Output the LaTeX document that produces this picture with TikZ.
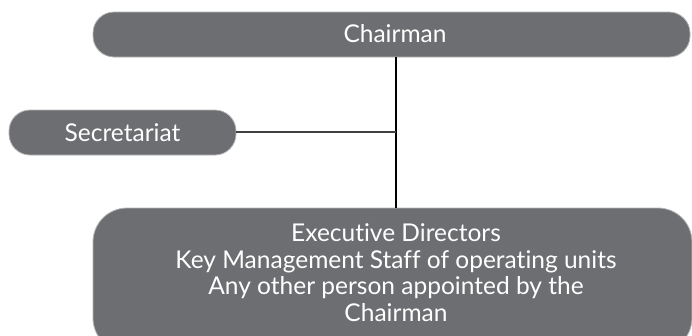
\documentclass[tikz,border=0pt]{standalone}
\usepackage{fontspec}
\setmainfont{Lato}[Ligatures=NoCommon]
\definecolor{boxgrey}{HTML}{6D6E71}
\definecolor{edgegrey}{HTML}{B4B5B7}
\begin{document}
\begin{tikzpicture}[x=1pt,y=-1pt,
  orgbox/.style={fill=boxgrey, draw=edgegrey, line width=0.8pt},
  orgtext/.style={text=white, font=\fontsize{24.5}{26.5}\selectfont, inner sep=0pt, align=center},
  link/.style={line width=1.4pt, draw=black}]
  \useasboundingbox (0,0) rectangle (692,335);
  \clip (0,0) rectangle (692,335);

  % boxes
  \draw[orgbox, rounded corners=21pt] (93,12) rectangle (690,57);
  \draw[orgbox, rounded corners=21pt] (9,110) rectangle (236,155);
  \draw[orgbox, rounded corners=34pt] (93,208) rectangle (692,352);

  % labels
  \node[orgtext] (chair) at (395,34) {Chairman};
  \node[orgtext] (sec) at (122.5,133) {Secretariat};
  \node[orgtext] (exec) at (396,272.5) {Executive Directors\\Key Management Staff of operating units\\Any other person appointed by the\\Chairman};

  % connectors
  \coordinate (ctop) at (396,57);
  \coordinate (cbot) at (396,208);
  \coordinate (cmid) at (396,132);
  \coordinate (sright) at (236,132);
  \draw[link] (ctop) -- (cbot);
  \draw[link, draw=black!75] (sright) -- (cmid);
\end{tikzpicture}
\end{document}
